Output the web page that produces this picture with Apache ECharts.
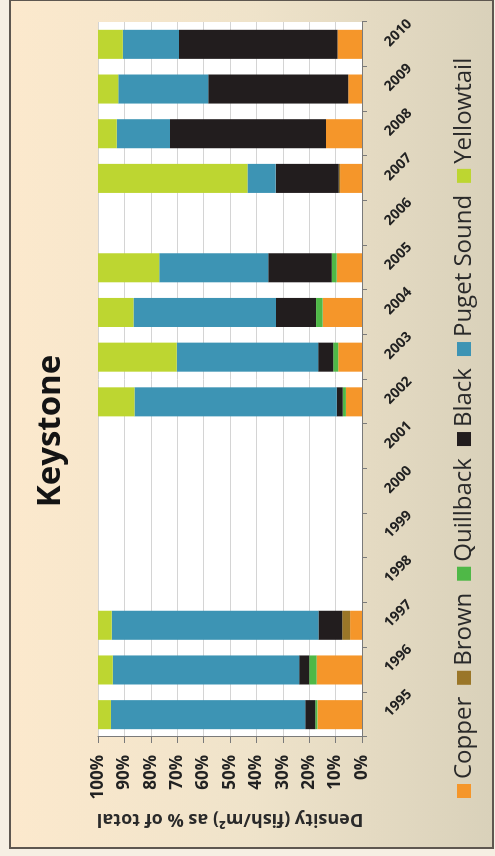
<!DOCTYPE html>
<html>
<head>
<meta charset="utf-8">
<script src="https://cdn.jsdelivr.net/npm/echarts@6/dist/echarts.min.js"></script>
<style>
  html, body { margin: 0; padding: 0; width: 495px; height: 856px; overflow: hidden; background: #f6efe3; }
  /* The chart is laid out landscape (856 x 495) and turned a quarter turn counter-clockwise. */
  #chart {
    position: absolute; left: 0; top: 0;
    width: 856px; height: 495px;
    transform-origin: 0 0;
    transform: translateY(856px) rotate(-90deg);
  }
</style>
</head>
<body>
<div id="chart"></div>
<script>
// Survey years (no dives recorded 1998-2001 and 2006)
const years = ['1995', '1996', '1997', '1998', '1999', '2000', '2001', '2002',
               '2003', '2004', '2005', '2006', '2007', '2008', '2009', '2010'];

// Density of each species as % of total density per year
const copper     = [16.9, 17.2, 4.5, null, null, null, null, 6.1, 9.0, 14.9, 9.6, null, 8.3, 13.6, 5.2, 9.3];
const brown      = [0, 0, 3.0, null, null, null, null, 0, 0, 0, 0, null, 0.5, 0, 0, 0];
const quillback  = [0.8, 2.8, 0, null, null, null, null, 1.2, 1.9, 2.5, 1.9, null, 0, 0, 0, 0];
const black      = [3.8, 3.8, 9.0, null, null, null, null, 2.3, 5.7, 15.2, 24.0, null, 23.9, 59.1, 53.0, 60.0];
const pugetSound = [73.6, 70.6, 78.3, null, null, null, null, 76.6, 53.6, 54.0, 41.3, null, 10.7, 20.2, 34.1, 21.3];
const yellowtail = [4.9, 5.6, 5.2, null, null, null, null, 13.8, 29.8, 13.4, 23.2, null, 56.6, 7.1, 7.7, 9.4];

const valueTicks = { min: 0, max: 100, interval: 10 };

const speciesSeries = [
  { name: 'Copper',      data: copper,     color: '#f5962a' },
  { name: 'Brown',       data: brown,      color: '#9a7628' },
  { name: 'Quillback',   data: quillback,  color: '#4fb847' },
  { name: 'Black',       data: black,      color: '#221d1e' },
  { name: 'Puget Sound', data: pugetSound, color: '#3d94b4' },
  { name: 'Yellowtail',  data: yellowtail, color: '#bdd631' }
];

const chart = echarts.init(document.getElementById('chart'), null, { renderer: 'canvas' });

chart.setOption({
  animation: false,
  textStyle: { fontFamily: 'Open Sans' },
  graphic: [{
    type: 'rect',
    z: -10,
    shape: { x: 8, y: 10, width: 848, height: 483 },
    style: {
      fill: new echarts.graphic.LinearGradient(0, 0, 0, 1, [
        { offset: 0, color: '#fce9cd' },
        { offset: 0.5, color: '#efe3ca' },
        { offset: 1, color: '#d9d1ba' }
      ]),
      stroke: '#5e5750',
      lineWidth: 2
    }
  }],
  title: {
    text: 'Keystone',
    left: 420,
    top: 29,
    textAlign: 'center',
    textStyle: { fontSize: 33, fontWeight: 'bold', color: '#141414', fontFamily: 'Open Sans' }
  },
  legend: {
    left: 53,
    top: 447,
    itemWidth: 14,
    itemHeight: 14,
    itemGap: 12,
    icon: 'rect',
    textStyle: { fontSize: 24, color: '#2a2a2a', fontFamily: 'Open Sans' },
    data: speciesSeries.map(s => s.name)
  },
  grid: {
    left: 119, right: 22, top: 98, bottom: 133,
    show: true,
    backgroundColor: '#ffffff',
    borderWidth: 0
  },
  xAxis: {
    type: 'category',
    data: years,
    position: 'bottom',
    axisLine: { lineStyle: { color: '#7a7a7a', width: 1 } },
    axisTick: { show: true, length: 5, lineStyle: { color: '#7a7a7a' } },
    axisLabel: {
      rotate: -45,
      margin: 25,
      fontSize: 14,
      fontWeight: 'bold',
      color: '#222',
      interval: 0
    }
  },
  yAxis: {
    type: 'value',
    min: valueTicks.min,
    max: valueTicks.max,
    interval: valueTicks.interval,
    name: 'Density (fish/m²) as % of total',
    nameLocation: 'middle',
    nameRotate: 90,
    nameGap: 70,
    nameTextStyle: { fontSize: 18, fontWeight: 'bold', color: '#2a2a2a' },
    axisLine: { show: true, lineStyle: { color: '#7a7a7a', width: 1 } },
    axisTick: { show: true, length: 6, lineStyle: { color: '#7a7a7a' } },
    axisLabel: {
      formatter: '{value}%',
      fontSize: 17,
      fontWeight: 'bold',
      color: '#222',
      margin: 18
    },
    splitLine: { show: true, lineStyle: { color: '#d4d4d4', width: 1 } }
  },
  series: speciesSeries.map(s => ({
    name: s.name,
    type: 'bar',
    stack: 'total',
    barCategoryGap: '35%',
    data: s.data,
    itemStyle: { color: s.color }
  }))
});
</script>
</body>
</html>
